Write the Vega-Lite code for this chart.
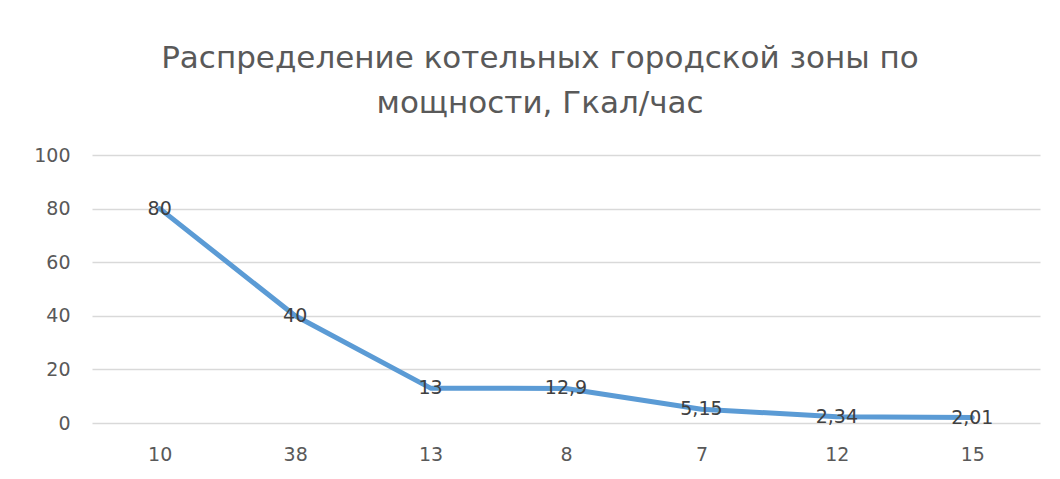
{
  "$schema": "https://vega.github.io/schema/vega-lite/v6.json",
  "autosize": {"type": "none"},
  "width": 948,
  "height": 268,
  "padding": {"left": 92, "top": 155, "right": 20, "bottom": 56},
  "background": "white",
  "title": {
    "text": ["Распределение котельных городской зоны по", "мощности, Гкал/час"],
    "font": "DejaVu Sans",
    "fontSize": 31,
    "fontWeight": "normal",
    "color": "#595959",
    "lineHeight": 45,
    "anchor": "middle",
    "dx": -26,
    "offset": 26
  },
  "data": {
    "values": [
      {"cat": "10", "value": 80, "label": "80"},
      {"cat": "38", "value": 40, "label": "40"},
      {"cat": "13", "value": 13, "label": "13"},
      {"cat": "8", "value": 12.9, "label": "12,9"},
      {"cat": "7", "value": 5.15, "label": "5,15"},
      {"cat": "12", "value": 2.34, "label": "2,34"},
      {"cat": "15", "value": 2.01, "label": "2,01"}
    ]
  },
  "encoding": {
    "x": {
      "field": "cat", "type": "ordinal", "sort": null,
      "scale": {"type": "point", "padding": 0.5},
      "axis": {
        "title": null, "labelAngle": 0, "domain": false, "ticks": false, "tickSize": 0,
        "labelPadding": 22, "labelFont": "DejaVu Sans", "labelFontSize": 19, "labelColor": "#595959",
        "grid": false
      }
    },
    "y": {
      "field": "value", "type": "quantitative",
      "scale": {"domain": [0, 100], "nice": false},
      "axis": {
        "title": null, "values": [0, 20, 40, 60, 80, 100], "domain": false, "ticks": false, "tickSize": 0,
        "labelPadding": 22, "labelFont": "DejaVu Sans", "labelFontSize": 19, "labelColor": "#595959",
        "grid": true, "gridColor": "#d9d9d9", "gridWidth": 1.5
      }
    }
  },
  "layer": [
    {
      "mark": {"type": "line", "interpolate": "linear", "color": "#5B9BD5", "strokeWidth": 5, "strokeCap": "round", "strokeJoin": "round"}
    },
    {
      "mark": {"type": "text", "font": "DejaVu Sans", "fontSize": 19, "color": "#404040", "baseline": "middle", "align": "center"},
      "encoding": {"text": {"field": "label"}}
    }
  ],
  "config": {"view": {"stroke": null}}
}
